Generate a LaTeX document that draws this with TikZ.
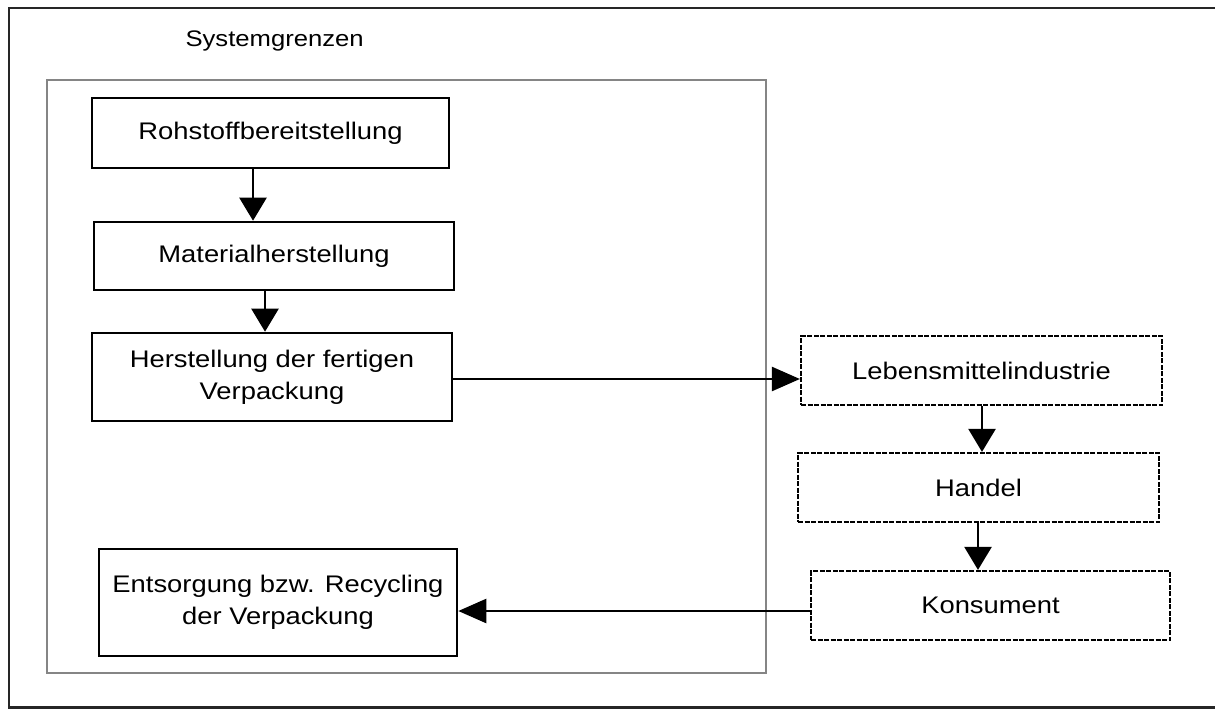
\documentclass[tikz,border=0pt]{standalone}
\usepackage{fontspec}
\setmainfont{Liberation Sans}[FakeStretch=1.14]
\usetikzlibrary{arrows.meta}
\begin{document}
\begin{tikzpicture}[x=1pt,y=-1pt,
  box/.style={draw=black, line width=2.6pt, rectangle, inner sep=0pt, align=center,
    font=\fontsize{24}{32}\selectfont},
  extbox/.style={box, line width=2.2pt, dash pattern=on 5pt off 1.5pt},
  arrv/.style={line width=2.4pt, -{Triangle[length=23pt,width=27pt]}},
  arrh/.style={line width=2.4pt, -{Triangle[length=28pt,width=24pt]}}]
  \useasboundingbox (0,0) rectangle (1215,709);
  % outer frame
  \draw[line width=2.6pt, black!85] (9,8) rectangle (1225,707.5);
  % system boundary
  \draw[line width=2.6pt, black!48] (47,80) rectangle (766,673);
  \node[anchor=base west, font=\fontsize{22.5}{26}\selectfont] (sg) at (182,47) {Systemgrenzen};

  % process chain inside the boundary
  \node[box, minimum width=357pt, minimum height=70pt] (roh) at (270.5,133) {Rohstoffbereitstellung};
  \node[box, minimum width=360pt, minimum height=68pt] (mat) at (274,256) {Materialherstellung};
  \node[box, minimum width=360pt, minimum height=88pt] (her) at (272,377) {Herstellung der fertigen\\Verpackung};
  \node[box, minimum width=358pt, minimum height=107pt] (ent) at (278,602.5) {Entsorgung bzw. Recycling\\der Verpackung};

  % stages outside the boundary
  \node[extbox, minimum width=361pt, minimum height=69pt] (leb) at (981.5,370.5) {Lebensmittelindustrie};
  \node[extbox, minimum width=361pt, minimum height=69pt] (han) at (978.5,487.5) {Handel};
  \node[extbox, minimum width=359pt, minimum height=69pt] (kon) at (990.5,605.5) {Konsument};

  % flows
  \draw[arrv] (roh.south -| 253,0) -- (mat.north -| 253,0);
  \draw[arrv] (mat.south -| 265,0) -- (her.north -| 265,0);
  \draw[arrh] (her.east |- 0,379) -- (leb.west |- 0,379);
  \draw[arrv] (leb.south -| 982,0) -- (han.north -| 982,0);
  \draw[arrv] (han.south -| 978,0) -- (kon.north -| 978,0);
  \draw[arrh] (kon.west |- 0,611) -- (ent.east |- 0,611);
\end{tikzpicture}
\end{document}
